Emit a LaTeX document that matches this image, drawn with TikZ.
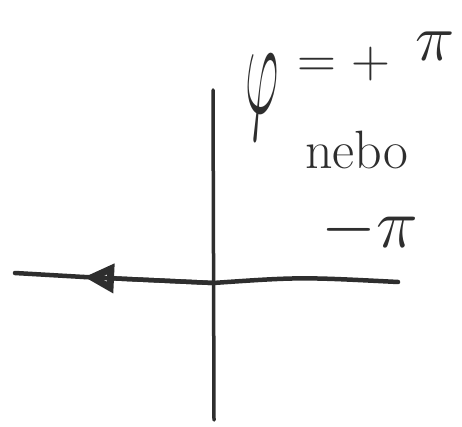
\documentclass[tikz,border=0pt]{standalone}
\usetikzlibrary{arrows.meta}
\definecolor{ink}{HTML}{2E2E2E}
\begin{document}
\begin{tikzpicture}[x=1pt,y=-1pt,
  stroke/.style={draw=ink,line width=4.5pt,line cap=round,line join=round},
  hand/.style={text=ink,inner sep=0pt,anchor=center,font=\fontsize{20}{20}\selectfont}]
\useasboundingbox (0,0) rectangle (462,427);
\fill[white] (0,0) rectangle (462,427);
% axes
\coordinate (vtop) at (213,90);
\coordinate (vbot) at (214,420);
\coordinate (hleft) at (15,273);
\coordinate (harrow) at (84,277);
\coordinate (hmid) at (213,283);
\coordinate (hright) at (398,282);
\draw[stroke,line width=3.5pt] (vtop) -- (vbot);
\draw[stroke] (hright) .. controls (300,277) .. (hmid) -- (harrow);
\draw[stroke,-{Triangle[open,length=30pt,width=28pt,line width=7pt]}] (hmid) -- (harrow);
\draw[stroke] (harrow) -- (hleft);
% labels
\node[hand,xscale=2.5,yscale=6.6] (phi) at (262,97) {$\varphi$};
\node[hand,scale=2.6] (eq) at (344,64) {$=+$};
\node[hand,scale=3.2] (pitop) at (435,46) {$\pi$};
\node[hand,scale=2.7] (nebo) at (357,150) {nebo};
\node[hand,scale=3.4] (minuspi) at (370,230) {$-\pi$};
\end{tikzpicture}
\end{document}
